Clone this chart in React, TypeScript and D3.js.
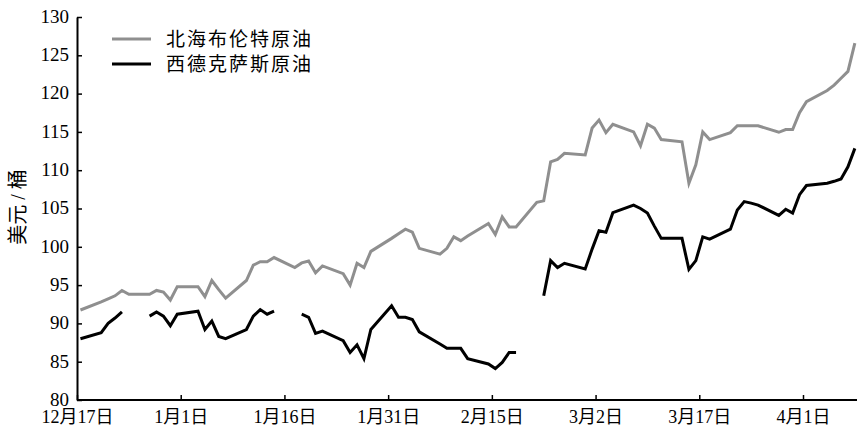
import { useEffect, useRef } from "react";
import * as d3 from "d3";

// trading days, Dec 2010 - Apr 2011
const dates = [
  "2010-12-17", "2010-12-20", "2010-12-21", "2010-12-22", "2010-12-23", "2010-12-24",
  "2010-12-27", "2010-12-28", "2010-12-29", "2010-12-30", "2010-12-31",
  "2011-01-03", "2011-01-04", "2011-01-05", "2011-01-06", "2011-01-07",
  "2011-01-10", "2011-01-11", "2011-01-12", "2011-01-13", "2011-01-14",
  "2011-01-17", "2011-01-18", "2011-01-19", "2011-01-20", "2011-01-21",
  "2011-01-24", "2011-01-25", "2011-01-26", "2011-01-27", "2011-01-28",
  "2011-01-31", "2011-02-01", "2011-02-02", "2011-02-03", "2011-02-04",
  "2011-02-07", "2011-02-08", "2011-02-09", "2011-02-10", "2011-02-11",
  "2011-02-14", "2011-02-15", "2011-02-16", "2011-02-17", "2011-02-18",
  "2011-02-21", "2011-02-22", "2011-02-23", "2011-02-24", "2011-02-25",
  "2011-02-28", "2011-03-01", "2011-03-02", "2011-03-03", "2011-03-04",
  "2011-03-07", "2011-03-08", "2011-03-09", "2011-03-10", "2011-03-11",
  "2011-03-14", "2011-03-15", "2011-03-16", "2011-03-17", "2011-03-18",
  "2011-03-21", "2011-03-22", "2011-03-23", "2011-03-24", "2011-03-25",
  "2011-03-28", "2011-03-29", "2011-03-30", "2011-03-31", "2011-04-01",
  "2011-04-04", "2011-04-05", "2011-04-06", "2011-04-07", "2011-04-08",
];

const brent = [
  91.75, 92.8, 93.2, 93.6, 94.3, 93.8,
  93.8, 94.3, 94.1, 93.05, 94.8,
  94.8, 93.5, 95.6, 94.4, 93.3,
  95.6, 97.6, 98.05, 98.05, 98.6,
  97.3, 97.9, 98.15, 96.6, 97.5,
  96.5, 95.0, 97.85, 97.3, 99.4,
  101.1, 101.7, 102.3, 101.9, 99.8,
  99.05, 99.8, 101.3, 100.8, 101.4,
  103.05, 101.6, 103.9, 102.6, 102.6,
  105.8, 106.0, 111.1, 111.4, 112.2,
  112.0, 115.5, 116.55, 114.9, 116.0,
  115.0, 113.2, 116.0, 115.5, 114.0,
  113.7, 108.3, 110.7, 115.0, 114.0,
  114.9, 115.8, 115.8, 115.8, 115.8,
  114.95, 115.3, 115.3, 117.5, 118.95,
  120.4, 121.1, 122.0, 122.9, 126.6,
];

// null = no quote that day (US holiday)
const wti: (number | null)[] = [
  88.0, 88.8, 90.0, 90.7, 91.5, null,
  90.95, 91.5, 90.95, 89.7, 91.2,
  91.6, 89.2, 90.3, 88.3, 88.0,
  89.2, 90.95, 91.8, 91.2, 91.6,
  null, 91.2, 90.8, 88.7, 89.0,
  87.75, 86.2, 87.2, 85.4, 89.2,
  92.3, 90.8, 90.8, 90.5, 88.9,
  87.3, 86.75, 86.75, 86.75, 85.4,
  84.7, 84.1, 84.9, 86.2, 86.2,
  null, 93.6, 98.2, 97.3, 97.85,
  97.1, 99.7, 102.1, 101.9, 104.45,
  105.45, 105.0, 104.4, 102.7, 101.1,
  101.1, 97.05, 98.2, 101.3, 101.0,
  102.3, 104.8, 105.9, 105.7, 105.45,
  104.1, 104.9, 104.4, 106.8, 108.0,
  108.3, 108.55, 108.85, 110.45, 112.85,
];

const tickDates = [
  "2010-12-17", "2011-01-01", "2011-01-16", "2011-01-31",
  "2011-02-15", "2011-03-02", "2011-03-17", "2011-04-01",
];
const tickLabels = ["12月17日", "1月1日", "1月16日", "1月31日", "2月15日", "3月2日", "3月17日", "4月1日"];
const yTicks = [80, 85, 90, 95, 100, 105, 110, 115, 120, 125, 130];
const seriesNames = ["北海布伦特原油", "西德克萨斯原油"];
const seriesColors = ["#8f8f8f", "#000000"];

const W = 857;
const H = 428;
const FONT = "'Liberation Serif', 'Noto Sans CJK SC', serif";

const App = () => {
  const svgRef = useRef<SVGSVGElement>(null);

  useEffect(() => {
    const parse = d3.utcParse("%Y-%m-%d");
    const days = dates.map((d) => d3.utcHour.offset(parse(d)!, 12));
    const ticks = tickDates.map((d) => parse(d)!);

    const left = 77;
    const right = W;
    const top = 17;
    const bottom = 400;

    const x = d3
      .scaleUtc()
      .domain([ticks[0], ticks[ticks.length - 1]])
      .range([left, 803]);
    const y = d3.scaleLinear().domain([80, 130]).range([bottom, top]);

    const svg = d3.select(svgRef.current);
    svg.selectAll("*").remove();

    // x axis
    const xAxis = svg
      .append("g")
      .attr("transform", `translate(0,${bottom})`)
      .call(
        d3
          .axisBottom(x)
          .tickValues(ticks)
          .tickFormat((_, i) => tickLabels[i])
          .tickSizeInner(-5)
          .tickSizeOuter(0)
          .tickPadding(10)
      );
    xAxis.select(".domain").remove();
    xAxis.selectAll("line").attr("stroke", "#000").attr("stroke-width", 1.5);
    xAxis
      .append("line")
      .attr("x1", left)
      .attr("x2", right)
      .attr("stroke", "#000")
      .attr("stroke-width", 2);
    xAxis
      .selectAll(".tick text")
      .attr("font-family", FONT)
      .attr("font-size", 18)
      .attr("fill", "#000");

    // y axis
    const yAxis = svg
      .append("g")
      .attr("transform", `translate(${left},0)`)
      .call(
        d3
          .axisLeft(y)
          .tickValues(yTicks)
          .tickSizeInner(-5)
          .tickSizeOuter(0)
          .tickPadding(8)
      );
    yAxis.select(".domain").attr("stroke", "#000").attr("stroke-width", 2);
    yAxis.selectAll("line").attr("stroke", "#000").attr("stroke-width", 1.5);
    yAxis
      .selectAll(".tick text")
      .attr("dy", "0.28em")
      .attr("font-family", FONT)
      .attr("font-size", 19)
      .attr("fill", "#000");

    // y title
    svg
      .append("text")
      .attr("transform", `translate(25,207) rotate(-90)`)
      .attr("text-anchor", "middle")
      .attr("font-family", FONT)
      .attr("font-size", 20)
      .text("美元 / 桶");

    // series
    const line = d3
      .line<number | null>()
      .defined((v) => v != null)
      .x((_, i) => x(days[i]))
      .y((v) => y(v as number));

    [brent, wti].forEach((series, k) => {
      svg
        .append("path")
        .datum(series)
        .attr("d", line)
        .attr("fill", "none")
        .attr("stroke", seriesColors[k])
        .attr("stroke-width", 3)
        .attr("stroke-linejoin", "miter");
    });

    // legend
    const legend = svg.append("g");
    seriesNames.forEach((name, k) => {
      const ly = 39 + k * 25;
      legend
        .append("line")
        .attr("x1", 112)
        .attr("x2", 151)
        .attr("y1", ly)
        .attr("y2", ly)
        .attr("stroke", seriesColors[k])
        .attr("stroke-width", 3);
      legend
        .append("text")
        .attr("x", 166)
        .attr("y", ly)
        .attr("dy", "0.35em")
        .attr("font-family", FONT)
        .attr("font-size", 19)
        .attr("letter-spacing", 2)
        .text(name);
    });
  }, []);

  return (
    <svg
      ref={svgRef}
      width={W}
      height={H}
      style={{ position: "absolute", left: 0, top: 0, background: "#fff" }}
    />
  );
};

export default App;
